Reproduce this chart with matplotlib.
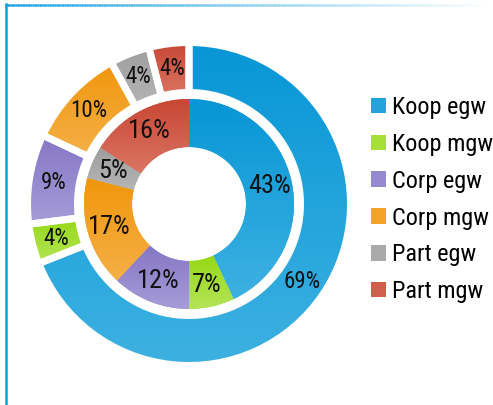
#!/usr/bin/env python3
# Two-ring doughnut: outer ring (split slices) vs inner ring, legend on the right.
import numpy as np
import matplotlib
matplotlib.use("Agg")
import matplotlib.pyplot as plt  # noqa: E402
from matplotlib.patches import Patch  # noqa: E402
from matplotlib.collections import LineCollection  # noqa: E402
from matplotlib.colors import to_rgb  # noqa: E402

plt.rcParams["font.family"] = ["Roboto Condensed", "DejaVu Sans"]

categories = ["Koop egw", "Koop mgw", "Corp egw", "Corp mgw", "Part egw", "Part mgw"]
outer_pct = [69, 4, 9, 10, 4, 4]
inner_pct = [43, 7, 12, 17, 5, 16]

# (top, bottom) of each vertical gradient fill
GRAD = [
    ("#0796d6", "#3db1e1"),
    ("#95d916", "#b4e457"),
    ("#8576c4", "#a69cd8"),
    ("#f0960c", "#f5b048"),
    ("#9e9e9e", "#b5b5b5"),
    ("#c84634", "#da7564"),
]
MID = [tuple((np.array(to_rgb(a)) + np.array(to_rgb(b))) / 2) for a, b in GRAD]

W, H = 493, 405
CX, CY = 189, 204          # doughnut centre in pixels (from top-left)


def gradient_fill(ax, wedge, top, bottom):
    """Paint a vertical gradient inside a wedge, clipped to its outline."""
    x0, y0, x1, y1 = wedge.get_path().get_extents(wedge.get_patch_transform()).extents
    grad = np.linspace(0, 1, 64)[:, None]
    c0, c1 = np.array(to_rgb(bottom)), np.array(to_rgb(top))
    img = c0[None, None, :] * (1 - grad[..., None]) + c1[None, None, :] * grad[..., None]
    im = ax.imshow(img, extent=(x0, x1, y0, y1), origin="lower",
                   aspect="auto", interpolation="bilinear", zorder=wedge.get_zorder())
    im.set_clip_path(wedge)


fig = plt.figure(figsize=(W / 100, H / 100), dpi=100)
ax = fig.add_axes([0, 0, 1, 1])
ax.set_aspect("equal")
ax.axis("off")

# outer ring: white borders give the split look
gap = 7  # px
outer, _ = ax.pie(outer_pct, radius=158 + gap / 2, startangle=90, counterclock=False,
                  colors=MID, wedgeprops=dict(width=43 + gap, edgecolor="white",
                                              linewidth=gap * 0.72))
inner, _ = ax.pie(inner_pct, radius=105, startangle=90, counterclock=False,
                  colors=MID, wedgeprops=dict(width=48, linewidth=0))
ax.set_xlim(-CX, W - CX)
ax.set_ylim(-(H - CY), CY)

for ring in (outer, inner):
    for w, (top, bottom) in zip(ring, GRAD):
        gradient_fill(ax, w, top, bottom)
# redraw the white borders over the gradients
for w in outer:
    w.set_facecolor("none")
    w.set_zorder(3)

for ring, vals, r, fs in ((outer, outer_pct, 137, 16.5), (inner, inner_pct, 83, 19)):
    for w, v in zip(ring, vals):
        a = np.deg2rad((w.theta1 + w.theta2) / 2)
        ax.text(r * np.cos(a), r * np.sin(a), f"{v}%", ha="center", va="center",
                fontsize=fs, color="#111111", zorder=5)

handles = [Patch(facecolor=c, edgecolor="none") for c in MID]
fig.legend(handles, categories, loc="upper left", bbox_to_anchor=(371 / W, 1 - 96 / H),
           frameon=False, fontsize=17.5, handlelength=0.6, handleheight=0.6,
           handletextpad=0.28, labelspacing=0.57, borderpad=0, borderaxespad=0)

# frame: solid left edge, top edge fading out to the right
fig.add_artist(plt.Line2D([6 / W, 6 / W], [0, 1 - 4 / H], color="#0d9ee0", lw=1.8,
                          transform=fig.transFigure))
xs = np.linspace(5 / W, 1, 200)
segs = [[(xs[i], 1 - 5 / H), (xs[i + 1], 1 - 5 / H)] for i in range(len(xs) - 1)]
base = np.array(to_rgb("#0d9ee0"))
t = np.linspace(0, 1, len(segs))[:, None]
cols = base * (1 - t) + np.ones(3) * t
fig.add_artist(LineCollection(segs, colors=cols, linewidths=1.8, transform=fig.transFigure))

fig.savefig("out.png", dpi=100)
